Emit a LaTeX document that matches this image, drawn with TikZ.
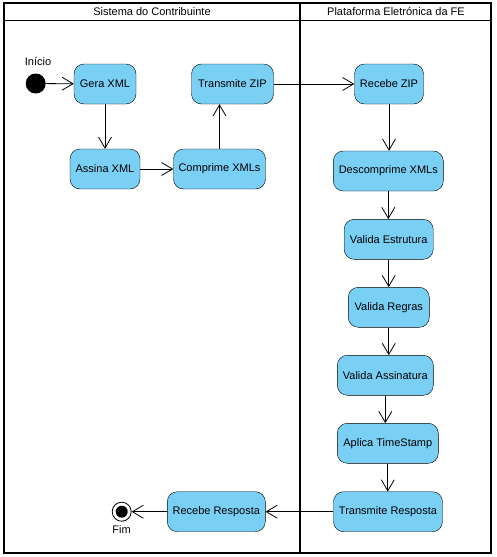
\documentclass[tikz,border=0pt]{standalone}
\usepackage{fontspec}
\setmainfont{Liberation Sans}
\usetikzlibrary{arrows.meta}
\definecolor{actblue}{RGB}{122,207,245}
\tikzset{
    action/.style={draw, fill=actblue, rounded corners=10pt, minimum height=40pt, inner xsep=4pt, font=\fontsize{11}{13}\selectfont},
    flow/.style={line width=0.8pt, -{Straight Barb[length=11pt,width=13pt]}},
    lane/.style={line width=1.6pt},
    lbl/.style={inner sep=0pt, font=\fontsize{11}{13}\selectfont},
}

\begin{document}
\begin{tikzpicture}[x=1pt, y=-1pt]
    \useasboundingbox (0,0) rectangle (497,557);

    % raias
    \draw[lane] (4,3) rectangle (491,553);
    \draw[lane] (300,3) -- (300,553);
    \draw[line width=0.8pt] (4,20) -- (491,20);
    \node[lbl] (raiaCont) at (152,12)    {Sistema do Contribuinte};
    \node[lbl] (raiaFE)   at (396,12)    {Plataforma Eletrónica da FE};

    % inicio e fim
    \node[circle, fill=black, minimum size=20pt, inner sep=0pt] (inicio) at (35.7,83.5) {};
    \node[lbl] (inicioTxt) at (38,62)    {Início};
    \node[circle, draw, fill=white, line width=0.8pt, minimum size=19pt, inner sep=0pt] (fim) at (121.7,511.7) {};
    \fill (fim.center) circle (6pt);
    \node[lbl] (fimTxt) at (121.5,530)   {Fim};

    % atividades
    \node[action, minimum width=62pt]  (gera)             at (105,84)      {Gera XML};
    \node[action, minimum width=70pt]  (assina)           at (105,169)     {Assina XML};
    \node[action, minimum width=92pt]  (comprime)         at (219.5,169)   {Comprime XMLs};
    \node[action, minimum width=82pt]  (transmiteZip)     at (232.5,84)    {Transmite ZIP};
    \node[action, minimum width=69pt]  (recebeZip)        at (389,84)      {Recebe ZIP};
    \node[action, minimum width=110pt] (descomprime)      at (388.3,171)   {Descomprime XMLs};
    \node[action, minimum width=89pt]  (validaEstrutura)  at (388.7,239.3) {Valida Estrutura};
    \node[action, minimum width=81pt]  (validaRegras)     at (388.8,307.3) {Valida Regras};
    \node[action, minimum width=96pt]  (validaAssinatura) at (385.3,375.3) {Valida Assinatura};
    \node[action, minimum width=101pt] (aplicaTS)         at (387.8,443.3) {Aplica TimeStamp};
    \node[action, minimum width=109pt] (transmiteResp)    at (388,511.7)   {Transmite Resposta};
    \node[action, minimum width=98pt]  (recebeResp)       at (216.3,511.7) {Recebe Resposta};

    % fluxos
    \draw[flow] (inicio) -- (gera);
    \draw[flow] (gera) -- (assina);
    \draw[flow] (assina) -- (comprime);
    \draw[flow] (comprime.north) -- (comprime.north |- transmiteZip.south);
    \draw[flow] (transmiteZip) -- (recebeZip);
    \draw[flow] (recebeZip.south) -- (recebeZip.south |- descomprime.north);
    \draw[flow] (descomprime.south) -- (descomprime.south |- validaEstrutura.north);
    \draw[flow] (validaEstrutura.south) -- (validaEstrutura.south |- validaRegras.north);
    \draw[flow] (validaRegras.south) -- (validaRegras.south |- validaAssinatura.north);
    \draw[flow] (validaAssinatura.south) -- (validaAssinatura.south |- aplicaTS.north);
    \draw[flow] (aplicaTS.south) -- (aplicaTS.south |- transmiteResp.north);
    \draw[flow] (transmiteResp) -- (recebeResp);
    \draw[flow] (recebeResp) -- (fim);
\end{tikzpicture}
\end{document}
